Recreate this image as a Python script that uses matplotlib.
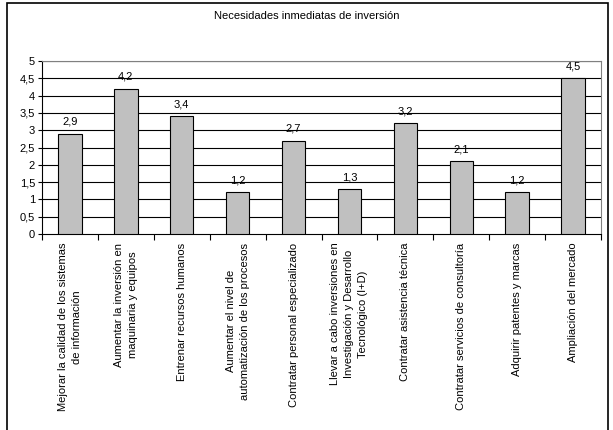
import matplotlib
matplotlib.use("Agg")
import matplotlib.pyplot as plt
from matplotlib.patches import Rectangle
import numpy as np

# Data
categories = [
    "Mejorar la calidad de los sistemas\nde información",
    "Aumentar la inversión en\nmaquinaria y equipos",
    "Entrenar recursos humanos",
    "Aumentar el nivel de\nautomatización de los procesos",
    "Contratar personal especializado",
    "Llevar a cabo inversiones en\nInvestigación y Desarrollo\nTecnológico (I+D)",
    "Contratar asistencia técnica",
    "Contratar servicios de consultoría",
    "Adquirir patentes y marcas",
    "Ampliación del mercado",
]
values = [2.9, 4.2, 3.4, 1.2, 2.7, 1.3, 3.2, 2.1, 1.2, 4.5]
y_ticks = [0, 0.5, 1, 1.5, 2, 2.5, 3, 3.5, 4, 4.5, 5]

plt.rcParams["font.family"] = ["Liberation Sans", "DejaVu Sans"]

fig = plt.figure(figsize=(6.13, 4.30), dpi=100)
ax = fig.add_axes([42 / 613, 1 - 234 / 430, (601 - 42) / 613, (234 - 61) / 430])

x = np.arange(len(categories))
ax.bar(x, values, width=0.42, color="#C0C0C0", edgecolor="black", linewidth=0.8, zorder=3)

for xi, v in zip(x, values):
    ax.text(xi, v + 0.2, f"{v:.1f}".replace(".", ","), ha="center", va="bottom", fontsize=8)

ax.set_xlim(-0.5, len(categories) - 0.5)
ax.set_ylim(0, 5)
ax.set_yticks(y_ticks)
ax.set_yticklabels([f"{t:g}".replace(".", ",") for t in y_ticks], fontsize=8)
for t in y_ticks[1:]:
    ax.axhline(t, color="black", linewidth=0.8, zorder=1)

# x ticks at category boundaries, labels placed as text
ax.set_xticks(np.arange(len(categories) + 1) - 0.5)
ax.set_xticklabels([])
ax.tick_params(axis="x", direction="out", length=4, width=0.8)
ax.tick_params(axis="y", direction="out", length=3, width=0.8, pad=2)

for xi, lab in zip(x, categories):
    ax.text(xi, -0.25, lab, rotation=90, ha="center", va="top",
            multialignment="center", fontsize=8, linespacing=1.5)

for side in ["top", "right"]:
    ax.spines[side].set_color("#808080")
    ax.spines[side].set_linewidth(0.8)
for side in ["left", "bottom"]:
    ax.spines[side].set_color("black")
    ax.spines[side].set_linewidth(0.8)

fig.text(0.5, 1 - 16 / 430, "Necesidades inmediatas de inversión",
         ha="center", va="center", fontsize=8)

# outer chart border
fig.patches.append(Rectangle((7 / 613, -0.05), (608 - 7) / 613, 1.05 - 3 / 430,
                             transform=fig.transFigure, fill=False,
                             edgecolor="black", linewidth=1.2))

fig.savefig("out.png", dpi=100)
